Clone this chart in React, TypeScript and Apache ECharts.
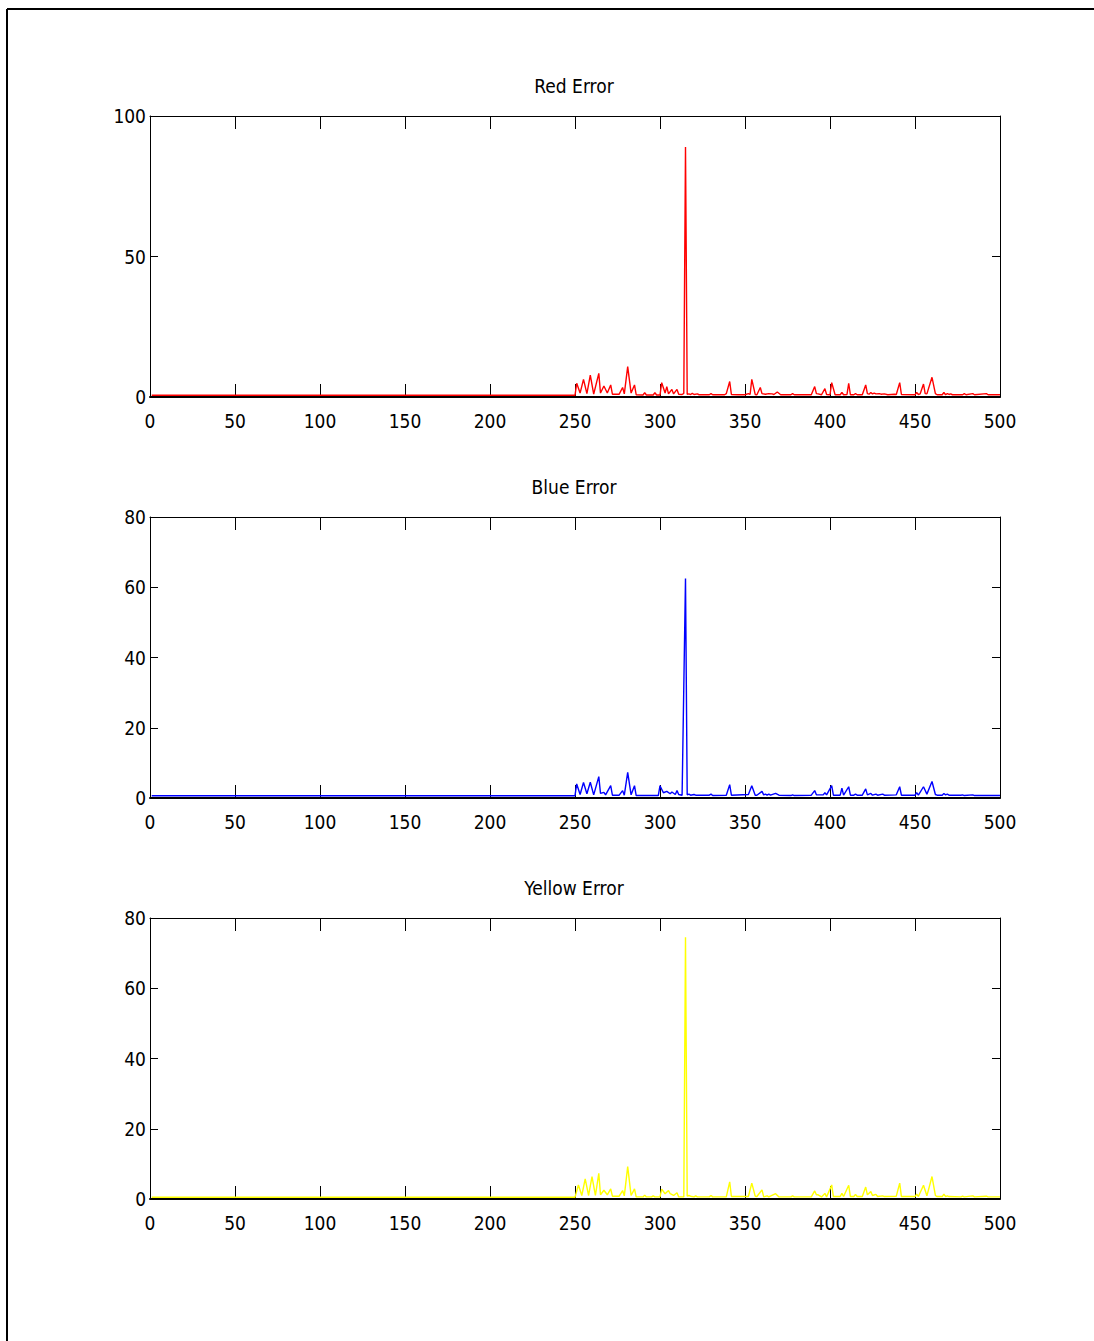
import React, { useEffect, useRef } from "react";
import * as echarts from "echarts";

const titles = ["Red Error", "Blue Error", "Yellow Error"];
const colors = ["#ff0000", "#0000ff", "#ffff00"];
const xTicks = [0, 50, 100, 150, 200, 250, 300, 350, 400, 450, 500];
const yMax = [100, 80, 80];
const yInterval = [50, 20, 20];

const redError: [number, number][] = [
  [1, 0.6], [250, 0.6], [251, 4.9], [253, 1.4], [255, 6.3], [257, 1.2], [259, 7.8], [261, 1.0], [264, 8.4], [265, 1.4],
  [267, 3.9], [269, 1.4], [271, 4.3], [272, 1.0], [276, 1.0], [278, 3.4], [279, 1.1], [281, 10.8], [283, 1.4], [285, 4.3],
  [286, 0.8], [290, 0.7], [291, 1.5], [292, 0.7], [296, 0.7], [297, 1.5], [298, 0.7], [300, 0.7], [301, 5.1], [303, 1.4],
  [304, 3.7], [305, 1.1], [307, 2.7], [308, 1.1], [310, 2.7], [311, 1.0], [313, 0.9], [314, 1.3], [315, 89], [316, 1.0],
  [317, 1.1], [318, 0.9], [319, 1.3], [320, 0.9], [322, 1.1], [323, 0.8], [329, 0.8], [330, 1.2], [331, 0.8], [338, 0.8],
  [339, 1.2], [341, 5.5], [342, 0.9], [346, 0.8], [350, 0.8], [352, 1.2], [353, 0.9], [354, 6.3], [356, 0.9], [357, 0.8],
  [359, 3.4], [360, 1.2], [362, 1.0], [364, 1.2], [366, 1.1], [367, 0.9], [369, 1.8], [371, 0.8], [377, 0.8], [378, 1.2],
  [379, 0.8], [389, 0.8], [391, 3.7], [392, 1.2], [393, 1.1], [395, 0.8], [397, 3.0], [398, 0.9], [400, 0.8], [401, 5.1],
  [403, 0.8], [406, 0.8], [407, 1.6], [408, 0.8], [410, 0.9], [411, 4.9], [412, 0.8], [414, 0.8], [415, 1.2], [416, 0.8],
  [419, 0.8], [421, 4.3], [422, 1.2], [423, 1.0], [424, 1.6], [425, 1.1], [426, 1.4], [427, 1.1], [429, 1.2], [430, 1.0],
  [432, 1.1], [434, 0.8], [438, 1.0], [439, 0.9], [441, 5.1], [442, 0.9], [450, 0.8], [451, 1.6], [452, 0.9], [453, 1.1],
  [455, 4.6], [456, 1.2], [457, 1.1], [460, 7.0], [462, 1.2], [463, 0.8], [466, 0.8], [467, 1.6], [468, 0.8], [469, 1.2],
  [470, 0.9], [471, 1.1], [472, 0.8], [478, 0.8], [479, 1.2], [480, 0.8], [484, 1.2], [485, 0.8], [492, 1.2], [493, 0.8],
  [500, 0.8],
];

const blueError: [number, number][] = [
  [1, 0.65], [250, 0.65], [251, 4.0], [253, 1.0], [255, 4.4], [257, 1.2], [259, 4.5], [261, 0.9], [264, 6.1], [265, 1.3],
  [267, 1.6], [268, 0.9], [271, 3.5], [272, 0.8], [276, 0.8], [278, 2.1], [279, 0.8], [281, 7.3], [283, 0.9], [285, 3.5],
  [286, 0.7], [299, 0.7], [300, 3.5], [302, 1.5], [304, 1.9], [306, 1.2], [307, 1.7], [309, 1.0], [310, 2.1], [311, 1.0],
  [313, 0.8], [315, 62.5], [316, 0.9], [317, 1.1], [318, 0.8], [320, 1.0], [321, 0.8], [329, 0.8], [330, 1.1], [331, 0.7],
  [339, 0.8], [341, 3.8], [342, 0.8], [352, 1.0], [354, 3.5], [356, 0.8], [357, 0.8], [360, 1.9], [361, 0.9], [362, 1.1],
  [363, 0.8], [364, 1.1], [365, 0.8], [368, 1.3], [370, 0.8], [377, 0.7], [378, 0.9], [379, 0.7], [389, 0.8], [391, 2.1],
  [392, 0.9], [396, 0.9], [397, 1.5], [398, 0.9], [401, 3.5], [402, 0.8], [406, 0.8], [407, 2.8], [408, 0.8], [411, 3.2],
  [412, 0.8], [414, 0.8], [415, 1.1], [416, 0.8], [419, 0.8], [421, 2.6], [422, 0.9], [424, 1.3], [425, 0.8], [427, 1.1],
  [428, 0.8], [431, 1.1], [432, 0.8], [439, 0.9], [441, 3.2], [442, 0.8], [450, 0.8], [451, 1.5], [452, 0.8], [455, 3.2],
  [457, 1.1], [460, 4.7], [462, 1.0], [463, 0.8], [466, 0.8], [467, 1.3], [468, 0.9], [469, 1.1], [470, 0.8], [477, 0.8],
  [478, 0.9], [479, 0.7], [484, 0.9], [485, 0.7], [500, 0.7],
];

const yellowError: [number, number][] = [
  [1, 0.5], [250, 0.5], [252, 4.0], [254, 1.0], [256, 5.7], [258, 1.0], [260, 6.4], [262, 1.0], [264, 7.3], [265, 1.2],
  [267, 2.5], [269, 1.2], [271, 2.9], [272, 0.8], [276, 0.8], [278, 2.4], [279, 0.9], [281, 9.2], [283, 1.0], [285, 2.9],
  [286, 0.6], [290, 0.6], [291, 1.1], [292, 0.6], [295, 0.6], [296, 0.9], [297, 0.6], [300, 0.6], [301, 2.8], [303, 1.5],
  [305, 2.4], [306, 1.5], [308, 1.0], [310, 1.8], [311, 0.6], [314, 0.6], [315, 74.5], [316, 0.8], [317, 1.0], [318, 0.8],
  [320, 0.6], [321, 0.9], [322, 0.6], [329, 0.6], [330, 1.0], [331, 0.6], [339, 0.6], [341, 4.9], [342, 0.7], [352, 0.7],
  [354, 4.5], [356, 0.8], [357, 0.7], [360, 2.6], [361, 0.6], [363, 0.9], [364, 0.6], [368, 1.5], [370, 0.6], [377, 0.6],
  [378, 0.9], [379, 0.6], [389, 0.6], [391, 2.3], [392, 1.2], [393, 1.2], [395, 0.6], [397, 1.6], [398, 0.6], [401, 4.0],
  [402, 0.7], [406, 0.7], [407, 1.6], [408, 0.7], [411, 3.9], [412, 0.7], [414, 0.7], [415, 1.3], [416, 0.7], [419, 0.7],
  [421, 3.4], [422, 1.2], [424, 2.1], [425, 1.0], [427, 1.3], [428, 0.7], [431, 0.9], [432, 0.7], [439, 0.8], [441, 4.5],
  [442, 0.7], [450, 0.7], [451, 1.4], [452, 0.7], [455, 3.9], [457, 0.9], [460, 6.4], [462, 1.0], [463, 0.7], [466, 0.7],
  [467, 1.4], [468, 0.7], [469, 0.9], [470, 0.7], [477, 0.6], [478, 0.8], [479, 0.6], [484, 0.9], [485, 0.6], [492, 0.8],
  [493, 0.6], [500, 0.6],
];

const seriesData = [redError, blueError, yellowError];

const FONT = "'Liberation Sans Narrow', 'Arial Narrow', 'DejaVu Sans Condensed', sans-serif";

export default function App() {
  const ref = useRef<HTMLDivElement>(null);
  useEffect(() => {
    if (!ref.current) return;
    const chart = echarts.init(ref.current, undefined, { renderer: "svg" });
    const tops = [116, 517, 918];
    const gridH = 281;
    const grids: any[] = [];
    const xAxes: any[] = [];
    const yAxes: any[] = [];
    const series: any[] = [];
    const graphics: any[] = [
      { type: "line", shape: { x1: 7, y1: 9, x2: 7, y2: 1341 }, style: { stroke: "#000", lineWidth: 2 } },
      { type: "line", shape: { x1: 7, y1: 9, x2: 1094, y2: 9 }, style: { stroke: "#000", lineWidth: 2 } },
    ];
    tops.forEach((top, i) => {
      grids.push({ left: 150, top, width: 850, height: gridH, containLabel: false });
      xAxes.push({
        type: "value", gridIndex: i, position: "bottom", min: xTicks[0], max: xTicks[xTicks.length - 1], interval: 50,
        axisLine: { show: true, onZero: false, lineStyle: { color: "#000", width: 2 } },
        axisTick: { show: true, inside: true, length: 13, lineStyle: { color: "#000" } },
        axisLabel: { show: true, color: "#000", fontSize: 19, fontFamily: FONT, margin: 14 },
        splitLine: { show: false },
      });
      xAxes.push({
        type: "value", gridIndex: i, position: "top", min: xTicks[0], max: xTicks[xTicks.length - 1], interval: 50,
        axisLine: { show: true, onZero: false, lineStyle: { color: "#000", width: 1 } },
        axisTick: { show: true, inside: true, length: 13, lineStyle: { color: "#000" } },
        axisLabel: { show: false },
        splitLine: { show: false },
      });
      yAxes.push({
        type: "value", gridIndex: i, position: "left", min: 0, max: yMax[i], interval: yInterval[i],
        axisLine: { show: true, onZero: false, lineStyle: { color: "#000", width: 1 } },
        axisTick: { show: true, inside: true, length: 8, lineStyle: { color: "#000" } },
        axisLabel: { show: true, color: "#000", fontSize: 19, fontFamily: FONT, margin: 4 },
        splitLine: { show: false },
      });
      yAxes.push({
        type: "value", gridIndex: i, position: "right", min: 0, max: yMax[i], interval: yInterval[i],
        axisLine: { show: true, onZero: false, lineStyle: { color: "#000", width: 1 } },
        axisTick: { show: true, inside: true, length: 8, lineStyle: { color: "#000" } },
        axisLabel: { show: false },
        splitLine: { show: false },
      });
      series.push({
        type: "line", name: titles[i], xAxisIndex: 2 * i, yAxisIndex: 2 * i, data: seriesData[i],
        showSymbol: false, symbol: "none", lineStyle: { color: colors[i], width: 1.4 }, z: 1,
      });
      graphics.push({
        type: "text", x: 574, y: top - 30,
        style: { text: titles[i], fill: "#000", fontSize: 19, fontFamily: FONT, textAlign: "center", textVerticalAlign: "middle" },
      });
    });
    chart.setOption({
      animation: false,
      backgroundColor: "#fff",
      grid: grids,
      xAxis: xAxes,
      yAxis: yAxes,
      series,
      graphic: graphics,
    });
    return () => chart.dispose();
  }, []);
  return <div ref={ref} style={{ position: "absolute", left: 0, top: 0, width: 1094, height: 1341 }} />;
}
